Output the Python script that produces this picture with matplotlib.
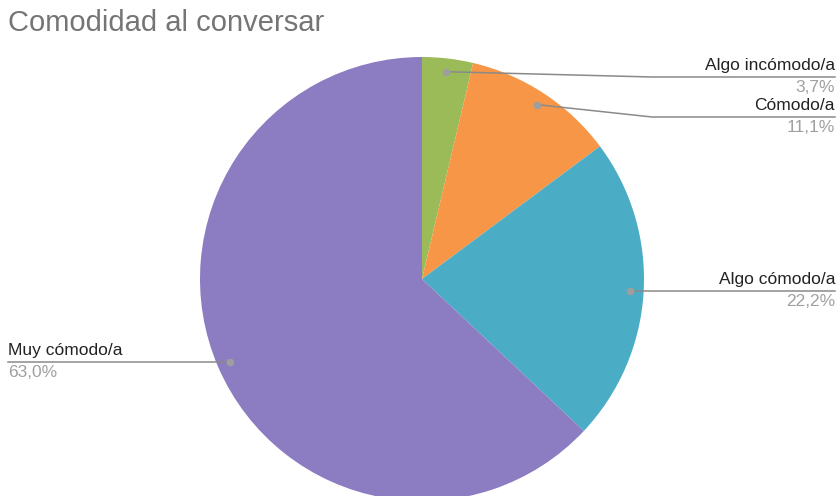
import numpy as np
from matplotlib import pyplot as plt

plt.rcParams["font.family"] = ["Liberation Sans", "DejaVu Sans"]

labels = ["Algo incómodo/a", "Cómodo/a", "Algo cómodo/a", "Muy cómodo/a"]
values = [3.7, 11.1, 22.2, 63.0]
pct_text = ["3,7%", "11,1%", "22,2%", "63,0%"]
colors = ["#9BBB59", "#F79646", "#4BACC6", "#8C7CC1"]

W, H = 838, 496
fig = plt.figure(figsize=(W / 100, H / 100), dpi=100)
ax = fig.add_axes([0, 0, 1, 1])


def py(y):
    # pixel row from top -> data y
    return H - y


cx, cy, R = 422, py(279), 222
wedges, _ = ax.pie(
    values,
    colors=colors,
    startangle=90,
    counterclock=False,
    center=(cx, cy),
    radius=R,
    frame=True,
)
ax.set_xlim(0, W)
ax.set_ylim(0, H)
ax.set_aspect("equal")
ax.axis("off")

# label layout: (line y in px or None = level with dot, kink x, side)
layout = [(77, 652, "right"), (117, 652, "right"), (None, None, "right"), (None, None, "left")]
line_col = "#8a8a8a"
for w, lab, pt, (ly, kx, side) in zip(wedges, labels, pct_text, layout):
    mid = np.deg2rad((w.theta1 + w.theta2) / 2)
    dx = cx + 0.94 * R * np.cos(mid)
    dy = cy + 0.94 * R * np.sin(mid)
    ax.plot(dx, dy, "o", ms=4.5, color="#9e9e9e", mec="#9e9e9e", zorder=5)
    if ly is None:
        ly = H - dy
    xe = 835 if side == "right" else 8
    if kx is None:
        xs, ys = [dx, xe], [dy, py(ly)]
    else:
        xs, ys = [dx, kx, xe], [dy, py(ly), py(ly)]
    ax.plot(xs, ys, color=line_col, lw=1.1, zorder=4)
    ax.text(xe, py(ly - 4), lab, ha=side, va="bottom", fontsize=12.5, color="#222222")
    ax.text(xe, py(ly + 3), pt, ha=side, va="top", fontsize=12.5, color="#a0a0a0")

fig.text(8 / W, 1 - 9 / H, "Comodidad al conversar", ha="left", va="top",
         fontsize=21, color="#757575")

fig.savefig("out.png", dpi=100)
